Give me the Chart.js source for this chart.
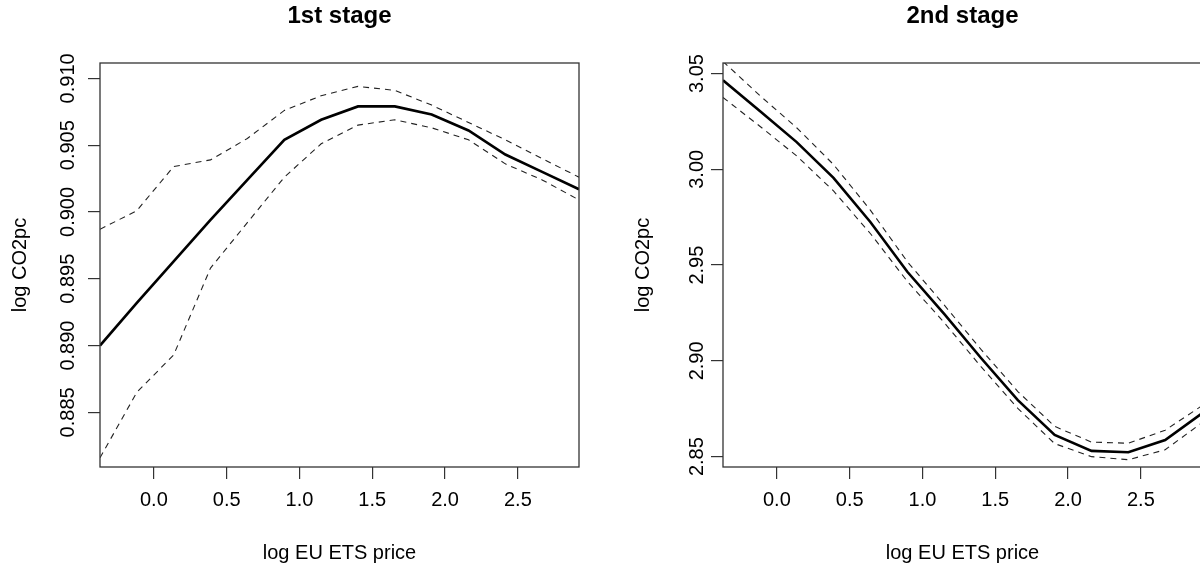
<!DOCTYPE html>
<html><head><meta charset="utf-8">
<script src="https://cdn.jsdelivr.net/npm/chart.js@4.4.1/dist/chart.umd.min.js"></script>
<style>
html,body{margin:0;padding:0;background:#fff;width:1200px;height:567px;overflow:hidden;position:relative;}
#c1{position:absolute;left:0;top:0;}
#c2{position:absolute;left:623px;top:0;}
</style></head><body>
<canvas id="c1" width="600" height="567"></canvas>
<canvas id="c2" width="600" height="567"></canvas>
<script>
// x grid (log EU ETS price) at which the curves are evaluated
const xGrid = [-0.370,-0.117,0.136,0.389,0.642,0.896,1.149,1.402,1.655,1.908,2.161,2.414,2.667,2.920];
const xTicks = [0.0,0.5,1.0,1.5,2.0,2.5];
const xTickLabels = ['0.0','0.5','1.0','1.5','2.0','2.5'];

// 1st stage
const stage1Fit   = [0.8900,0.8932,0.8963,0.8994,0.9024,0.9054,0.9069,0.9079,0.9079,0.9073,0.9061,0.9043,0.9030,0.9017];
const stage1Upper = [0.8987,0.9001,0.9034,0.9039,0.9055,0.9076,0.9087,0.9094,0.9091,0.9080,0.9067,0.9054,0.9040,0.9026];
const stage1Lower = [0.8816,0.8865,0.8893,0.8958,0.8992,0.9026,0.9051,0.9065,0.9069,0.9063,0.9054,0.9036,0.9024,0.9009];
const stage1YTicks = [0.885,0.890,0.895,0.900,0.905,0.910];
const stage1YTickLabels = ['0.885','0.890','0.895','0.900','0.905','0.910'];

// 2nd stage
const stage2Fit   = [3.0465,3.0305,3.0142,2.9955,2.9725,2.9465,2.9245,2.9015,2.8795,2.8613,2.8530,2.8523,2.8587,2.8726];
const stage2Upper = [3.0563,3.0385,3.0217,3.0025,2.9787,2.9518,2.9292,2.9060,2.8840,2.8658,2.8576,2.8570,2.8638,2.8766];
const stage2Lower = [3.0375,3.0225,3.0070,2.9887,2.9665,2.9415,2.9200,2.8970,2.8752,2.8568,2.8500,2.8484,2.8536,2.8677];
const stage2YTicks = [2.85,2.90,2.95,3.00,3.05];
const stage2YTickLabels = ['2.85','2.90','2.95','3.00','3.05'];

const FONT = "'Liberation Sans', Arial, sans-serif";

const boxPlugin = {
  id: 'box',
  afterDatasetsDraw(chart) {
    const {ctx, chartArea: a} = chart;
    ctx.save();
    ctx.strokeStyle = '#333';
    ctx.lineWidth = 1.3;
    ctx.strokeRect(a.left, a.top, a.right - a.left, a.bottom - a.top);
    ctx.restore();
  }
};

function pts(ys) { return xGrid.map((x, i) => ({x: x, y: ys[i]})); }

function makeChart(id, title, fit, upper, lower, yMin, yMax, yTicks, yLabels) {
  const dashed = {borderColor: '#222', borderWidth: 1.1, borderDash: [6, 5], pointRadius: 0, tension: 0, fill: false};
  return new Chart(document.getElementById(id), {
    type: 'line',
    data: {
      datasets: [
        Object.assign({data: pts(upper)}, dashed),
        Object.assign({data: pts(lower)}, dashed),
        {data: pts(fit), borderColor: '#000', borderWidth: 2.6, pointRadius: 0, tension: 0, fill: false}
      ]
    },
    options: {
      responsive: false,
      animation: false,
      devicePixelRatio: 1,
      layout: {padding: {left: 0, right: 21, top: 0, bottom: 0}},
      plugins: {
        legend: {display: false},
        tooltip: {enabled: false},
        title: {display: true, fullSize: false, text: title, color: '#000',
                font: {family: FONT, size: 24, weight: 'bold'}, padding: {top: 2, bottom: 32.2}}
      },
      scales: {
        x: {
          type: 'linear', min: -0.370, max: 2.920,
          afterBuildTicks: s => { s.ticks = xTicks.map(v => ({value: v})); },
          afterFit: s => { s.height = 100; },
          grid: {display: true, drawOnChartArea: false, drawTicks: true, tickLength: 12, color: '#333', lineWidth: 1.2},
          border: {display: false},
          ticks: {color: '#000', font: {family: FONT, size: 20}, padding: 9, maxRotation: 0, autoSkip: false,
                  callback: (v, i) => xTickLabels[i]},
          title: {display: true, text: 'log EU ETS price', color: '#000', font: {family: FONT, size: 20},
                  padding: {top: 0, bottom: 2}}
        },
        y: {
          type: 'linear', min: yMin, max: yMax,
          afterBuildTicks: s => { s.ticks = yTicks.map(v => ({value: v})); },
          afterFit: s => { s.width = 100; },
          grid: {display: true, drawOnChartArea: false, drawTicks: true, tickLength: 12, color: '#333', lineWidth: 1.2},
          border: {display: false},
          ticks: {color: '#000', font: {family: FONT, size: 20}, padding: -6, minRotation: 90, maxRotation: 90,
                  crossAlign: 'center', autoSkip: false, callback: (v, i) => yLabels[i]},
          title: {display: true, text: 'log CO2pc', color: '#000', font: {family: FONT, size: 20},
                  padding: {top: 8, bottom: 0}}
        }
      }
    },
    plugins: [boxPlugin]
  });
}

makeChart('c1', '1st stage', stage1Fit, stage1Upper, stage1Lower, 0.88091, 0.91115, stage1YTicks, stage1YTickLabels);
makeChart('c2', '2nd stage', stage2Fit, stage2Upper, stage2Lower, 2.8446, 3.0555, stage2YTicks, stage2YTickLabels);
</script>
</body></html>
